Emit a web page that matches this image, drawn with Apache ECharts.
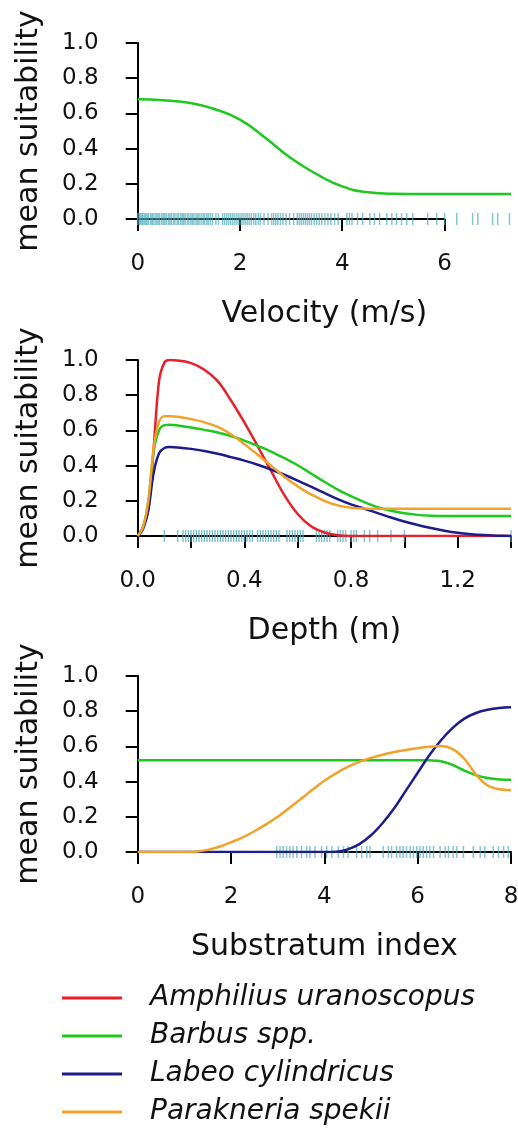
<!DOCTYPE html>
<html>
<head>
<meta charset="utf-8">
<script src="https://cdn.jsdelivr.net/npm/echarts@6/dist/echarts.min.js"></script>
<style>
  html, body { margin: 0; padding: 0; background: #fff; }
  #chart { width: 518px; height: 1131px; }
</style>
</head>
<body>
<div id="chart"></div>
<script>
// species colours
const colAmph = '#e8202a';
const colBarb = '#1ec81e';
const colLabeo = '#1c1c8a';
const colPara = '#f2a22a';
const rugColor = 'rgba(80,172,188,0.7)';

// Velocity panel
const velX = [0, 0.5, 1, 1.5, 2, 2.5, 3, 3.5, 4, 4.5, 5, 5.5, 6, 6.5, 7, 7.3];
const velBarbus = [0.68, 0.675, 0.66, 0.625, 0.565, 0.46, 0.345, 0.255, 0.185, 0.152, 0.143, 0.142, 0.142, 0.142, 0.142, 0.142];
const velRug = [0.0, 0.03, 0.05, 0.08, 0.1, 0.13, 0.16, 0.18, 0.21, 0.25, 0.28, 0.3, 0.34, 0.37, 0.4, 0.43, 0.47, 0.5, 0.53, 0.56,
  0.6, 0.63, 0.66, 0.7, 0.73, 0.77, 0.8, 0.84, 0.87, 0.9, 0.93, 0.97, 1.0, 1.04, 1.07, 1.1, 1.14, 1.17, 1.2, 1.24, 1.28, 1.31,
  1.35, 1.38, 1.42, 1.46, 1.53, 1.58, 1.66, 1.7, 1.74, 1.78, 1.82, 1.86, 1.9, 1.94, 1.98, 2.02, 2.06, 2.1, 2.14, 2.18, 2.22,
  2.27, 2.31, 2.36, 2.4, 2.47, 2.55, 2.62, 2.66, 2.7, 2.74, 2.79, 2.84, 2.9, 2.97, 3.05, 3.12, 3.16, 3.2, 3.24, 3.28, 3.32,
  3.36, 3.4, 3.45, 3.5, 3.55, 3.6, 3.66, 3.72, 3.78, 3.85, 3.92, 4.09, 4.14, 4.19, 4.3, 4.4, 4.54, 4.63, 4.73, 4.87, 4.97,
  5.06, 5.16, 5.26, 5.38, 5.67, 5.85, 6.0, 6.24, 6.55, 6.65, 6.94, 7.04, 7.27];

// Depth panel
const depX = [0, 0.02, 0.04, 0.06, 0.08, 0.1, 0.12, 0.15, 0.2, 0.25, 0.3, 0.35, 0.4, 0.45, 0.5, 0.55, 0.6, 0.65, 0.7,
  0.75, 0.8, 0.85, 0.9, 0.95, 1.0, 1.05, 1.1, 1.15, 1.2, 1.25, 1.3, 1.35, 1.4];
const depAmph = [0, 0.05, 0.15, 0.5, 0.88, 0.985, 1.0, 0.997, 0.982, 0.945, 0.88, 0.77, 0.645, 0.51, 0.37, 0.232, 0.125,
  0.055, 0.02, 0.004, 0, 0, 0, 0, 0, 0, 0, 0, 0, 0, 0, 0, 0];
const depBarb = [0, 0.05, 0.2, 0.48, 0.6, 0.63, 0.632, 0.628, 0.617, 0.603, 0.588, 0.568, 0.542, 0.512, 0.48, 0.442, 0.402,
  0.355, 0.308, 0.264, 0.226, 0.192, 0.163, 0.143, 0.129, 0.12, 0.115, 0.113, 0.113, 0.113, 0.113, 0.113, 0.113];
const depLabeo = [0, 0.04, 0.15, 0.36, 0.47, 0.5, 0.505, 0.503, 0.495, 0.483, 0.467, 0.448, 0.428, 0.405, 0.378, 0.348,
  0.315, 0.28, 0.245, 0.21, 0.18, 0.155, 0.13, 0.105, 0.082, 0.062, 0.045, 0.03, 0.018, 0.01, 0.005, 0.002, 0];
const depPara = [0, 0.05, 0.2, 0.5, 0.65, 0.68, 0.68, 0.677, 0.664, 0.646, 0.62, 0.578, 0.522, 0.462, 0.4, 0.337, 0.282,
  0.236, 0.2, 0.174, 0.161, 0.156, 0.155, 0.155, 0.155, 0.155, 0.155, 0.155, 0.155, 0.155, 0.155, 0.155, 0.155];
const depRug = [0.1, 0.15, 0.17, 0.18, 0.19, 0.2, 0.21, 0.22, 0.23, 0.24, 0.25, 0.26, 0.27, 0.28, 0.29, 0.3, 0.31, 0.32,
  0.33, 0.34, 0.35, 0.36, 0.37, 0.38, 0.39, 0.4, 0.41, 0.42, 0.43, 0.45, 0.46, 0.47, 0.48, 0.49, 0.5, 0.51, 0.52, 0.53,
  0.56, 0.57, 0.58, 0.59, 0.6, 0.61, 0.62, 0.67, 0.68, 0.69, 0.7, 0.71, 0.72, 0.75, 0.76, 0.77, 0.78, 0.8, 0.81, 0.82,
  0.85, 0.87, 0.9, 0.95, 1.0, 1.4];

// Substratum panel
const subX = [0, 0.25, 0.5, 0.75, 1, 1.25, 1.5, 1.75, 2, 2.25, 2.5, 2.75, 3, 3.25, 3.5, 3.75, 4, 4.25, 4.5, 4.75, 5,
  5.25, 5.5, 5.75, 6, 6.25, 6.5, 6.75, 7, 7.25, 7.5, 7.75, 8];
const subBarb = [0.522, 0.522, 0.522, 0.522, 0.522, 0.522, 0.522, 0.522, 0.522, 0.522, 0.522, 0.522, 0.522, 0.522, 0.522,
  0.522, 0.522, 0.522, 0.522, 0.522, 0.522, 0.522, 0.522, 0.522, 0.522, 0.521, 0.516, 0.495, 0.462, 0.437, 0.42, 0.412, 0.41];
const subLabeo = [0, 0, 0, 0, 0, 0, 0, 0, 0, 0, 0, 0, 0, 0, 0, 0, 0, 0.002, 0.015, 0.045, 0.095, 0.165, 0.25, 0.35, 0.45,
  0.55, 0.635, 0.705, 0.758, 0.79, 0.808, 0.818, 0.822];
const subPara = [0, 0, 0, 0, 0, 0.002, 0.012, 0.03, 0.055, 0.083, 0.118, 0.157, 0.2, 0.25, 0.302, 0.355, 0.405, 0.447,
  0.483, 0.512, 0.535, 0.553, 0.568, 0.58, 0.59, 0.598, 0.602, 0.585, 0.53, 0.44, 0.378, 0.357, 0.352];
const subRug = [2.98, 3.05, 3.12, 3.19, 3.26, 3.33, 3.41, 3.51, 3.62, 3.69, 3.8, 3.94, 4.05, 4.16, 4.3, 4.41, 4.51, 4.69,
  4.8, 4.91, 4.98, 5.26, 5.37, 5.44, 5.55, 5.62, 5.69, 5.76, 5.84, 5.91, 5.98, 6.05, 6.12, 6.19, 6.26, 6.34, 6.48, 6.59,
  6.66, 6.76, 6.84, 6.98, 7.19, 7.34, 7.44, 7.62, 7.73, 7.84, 7.94];

const yTicks = { min: 0, max: 1, interval: 0.2 };
const font = 'DejaVu Sans';

const chart = echarts.init(document.getElementById('chart'));

function pairs(xs, ys) {
  return xs.map((x, i) => [x, ys[i]]);
}

function lineSeries(name, color, xs, ys, idx, smooth) {
  return {
    name: name, type: 'line', color: color, xAxisIndex: idx, yAxisIndex: idx,
    data: pairs(xs, ys), showSymbol: false, symbol: 'none', smooth: smooth || 0.35,
    lineStyle: { color: color, width: 2.5 }, z: 3
  };
}

function rugSeries(vals, idx) {
  return {
    type: 'custom', xAxisIndex: idx, yAxisIndex: idx, clip: false, z: 1,
    data: vals.map(v => [v, 0]),
    renderItem: function(params, api) {
      const p = api.coord([api.value(0), 0]);
      return {
        type: 'line',
        shape: { x1: p[0], y1: p[1] - 6, x2: p[0], y2: p[1] + 6 },
        style: { stroke: rugColor, lineWidth: 1.5 }
      };
    }
  };
}

const axisLine = { show: true, lineStyle: { color: '#000', width: 2 } };
const axisTick = { show: true, length: 12, lineStyle: { color: '#000', width: 2 } };
const labelStyle = { fontFamily: font, fontSize: 23, color: '#111' };
const nameStyle = { fontFamily: font, fontSize: 30, color: '#111' };

function yAxisFor(idx) {
  return {
    gridIndex: idx, type: 'value', min: yTicks.min, max: yTicks.max, interval: yTicks.interval,
    offset: 15, axisLine: axisLine, axisTick: axisTick, splitLine: { show: false },
    axisLabel: Object.assign({ margin: 24, formatter: v => v.toFixed(1) }, labelStyle),
    name: 'mean suitability', nameLocation: 'middle', nameGap: 78, nameRotate: 90,
    nameTextStyle: nameStyle
  };
}

function gridAt(top, width) {
  return { left: 137.7, top: top, width: width, height: 176, containLabel: false, outerBoundsMode: 'none' };
}

const option = {
  animation: false,
  backgroundColor: '#fff',
  grid: [gridAt(43, 373.3), gridAt(43, 306.8), gridAt(360, 373.3), gridAt(676, 373.3)],
  xAxis: [
    {
      gridIndex: 0, type: 'value', min: 0, max: 7.3, offset: 8,
      axisLine: { show: false }, axisTick: { show: false }, axisLabel: { show: false }, splitLine: { show: false },
      name: 'Velocity (m/s)', nameLocation: 'middle', nameGap: 72, nameTextStyle: nameStyle
    },
    {
      gridIndex: 1, type: 'value', min: 0, max: 6, interval: 2, offset: 8,
      axisLine: axisLine, axisTick: axisTick, splitLine: { show: false },
      axisLabel: Object.assign({ margin: 26 }, labelStyle)
    },
    {
      gridIndex: 2, type: 'value', min: 0, max: 1.4, interval: 0.2, offset: 8,
      axisLine: axisLine, axisTick: axisTick, splitLine: { show: false },
      axisLabel: Object.assign({
        margin: 26, showMinLabel: true, showMaxLabel: true,
        formatter: v => (Math.round(v * 10) % 4 === 0 ? v.toFixed(1) : '')
      }, labelStyle),
      name: 'Depth (m)', nameLocation: 'middle', nameGap: 72, nameTextStyle: nameStyle
    },
    {
      gridIndex: 3, type: 'value', min: 0, max: 8, interval: 2, offset: 8,
      axisLine: axisLine, axisTick: axisTick, splitLine: { show: false },
      axisLabel: Object.assign({ margin: 26 }, labelStyle),
      name: 'Substratum index', nameLocation: 'middle', nameGap: 72, nameTextStyle: nameStyle
    }
  ],
  yAxis: [
    yAxisFor(0),
    { gridIndex: 1, type: 'value', min: 0, max: 1, show: false },
    yAxisFor(2),
    yAxisFor(3)
  ],
  legend: {
    orient: 'vertical', left: 62, top: 982, padding: 0, itemGap: 6,
    itemWidth: 60, itemHeight: 3, icon: 'rect',
    data: ['Amphilius uranoscopus', 'Barbus spp.', 'Labeo cylindricus', 'Parakneria spekii'],
    textStyle: { fontFamily: font, fontSize: 28, fontStyle: 'italic', color: '#111', lineHeight: 32, padding: [0, 0, 0, 23] }
  },
  series: [
    rugSeries(velRug, 0),
    lineSeries('Barbus spp.', colBarb, velX, velBarbus, 0, 0.5),

    rugSeries(depRug, 2),
    lineSeries('Amphilius uranoscopus', colAmph, depX, depAmph, 2),
    lineSeries('Barbus spp.', colBarb, depX, depBarb, 2),
    lineSeries('Labeo cylindricus', colLabeo, depX, depLabeo, 2),
    lineSeries('Parakneria spekii', colPara, depX, depPara, 2),

    rugSeries(subRug, 3),
    lineSeries('Barbus spp.', colBarb, subX, subBarb, 3),
    lineSeries('Labeo cylindricus', colLabeo, subX, subLabeo, 3),
    lineSeries('Parakneria spekii', colPara, subX, subPara, 3)
  ]
};

chart.setOption(option);
</script>
</body>
</html>
